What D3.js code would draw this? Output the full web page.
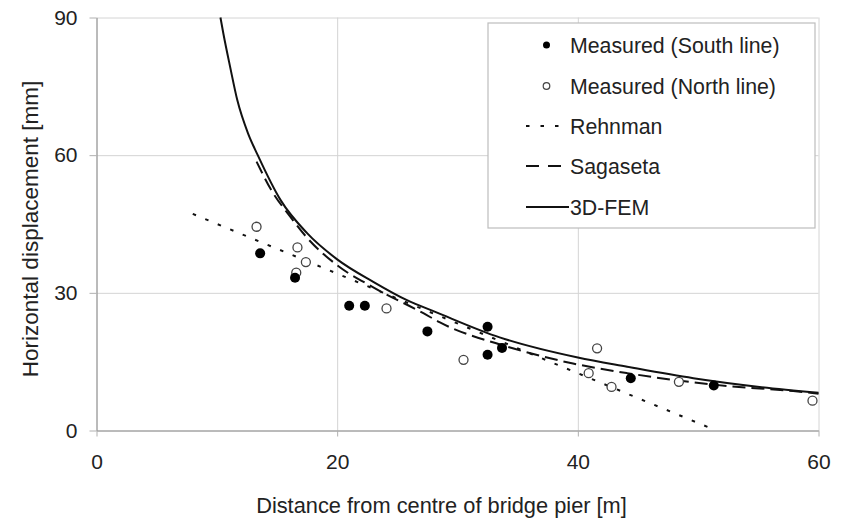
<!DOCTYPE html>
<html>
<head>
<meta charset="utf-8">
<script src="https://cdn.jsdelivr.net/npm/d3@7"></script>
<style>
  body { margin: 0; background: #fff; }
  text { font-family: "Liberation Sans", Arial, sans-serif; fill: #222; }
</style>
</head>
<body>
<div id="chart"></div>
<script>
// measured points [distance m, displacement mm]
var southX = [13.6, 16.5, 21.0, 22.3, 27.5, 32.5, 32.5, 33.7, 44.4, 51.3];
var southY = [38.6, 33.3, 27.2, 27.2, 21.6, 22.6, 16.5, 18.0, 11.4, 9.8];
var northX = [13.3, 16.7, 17.4, 16.6, 24.1, 30.5, 41.6, 40.9, 42.8, 48.4, 59.5];
var northY = [44.4, 39.9, 36.7, 34.4, 26.6, 15.4, 17.9, 12.5, 9.5, 10.6, 6.5];

// predictions
var rehnmanX = [8.0, 51.5];
var rehnmanY = [47.2, 0];
var sagasetaX = [13.3, 14.5, 16.1, 17.5, 20, 23, 27.2, 28.5, 34.1, 39.6, 44.1, 52.4, 57.9, 60];
var sagasetaY = [58.6, 52.5, 46.6, 42.0, 36.0, 31.2, 25.5, 23.6, 18.3, 14.6, 12.5, 9.7, 8.6, 8.0];
var femX = [10.3, 10.55, 11.1, 11.7, 12.6, 13.4, 15.3, 17.5, 20, 23, 25.8, 28.2, 33.5, 40, 44.1, 49.6, 55.1, 60];
var femY = [90, 86.4, 79.3, 72.0, 64.7, 60.0, 50.2, 43.0, 37.3, 32.4, 28.4, 25.8, 20.3, 15.9, 13.9, 11.4, 9.5, 8.2];

var xTicks = [0, 20, 40, 60];
var yTicks = [0, 30, 60, 90];
var legendLabels = ["Measured (South line)", "Measured (North line)", "Rehnman", "Sagaseta", "3D-FEM"];

var margin = { top: 17.5, right: 25.5, bottom: 89.5, left: 96.5 },
  width = 844 - margin.left - margin.right,
  height = 520 - margin.top - margin.bottom;

var svg = d3.select("#chart")
  .append("svg")
  .attr("width", 844)
  .attr("height", 520)
  .append("g")
  .attr("transform", "translate(" + margin.left + "," + margin.top + ")");

var x = d3.scaleLinear().domain([0, 60]).range([0, width]);
var y = d3.scaleLinear().domain([0, 90]).range([height, 0]);

// gridlines
svg.append("g")
  .call(d3.axisLeft(y).tickValues(yTicks).tickSize(-width).tickFormat(""))
  .call(function(g) { g.select(".domain").remove(); })
  .selectAll("line").attr("stroke", "#d4d4d4");
svg.append("g")
  .attr("transform", "translate(0," + height + ")")
  .call(d3.axisBottom(x).tickValues(xTicks).tickSize(-height).tickFormat(""))
  .call(function(g) { g.select(".domain").remove(); })
  .selectAll("line").attr("stroke", "#d4d4d4");

// axes
var yAxis = svg.append("g")
  .call(d3.axisLeft(y).tickValues(yTicks).tickSize(7).tickSizeOuter(0).tickPadding(12));
var xAxis = svg.append("g")
  .attr("transform", "translate(0," + height + ")")
  .call(d3.axisBottom(x).tickValues(xTicks).tickSize(6).tickSizeOuter(0).tickPadding(18));
[yAxis, xAxis].forEach(function(a) {
  a.select(".domain").attr("stroke", "#8c8c8c");
  a.selectAll(".tick line").attr("stroke", "#b0b0b0");
  a.selectAll("text").attr("font-size", 21).attr("fill", "#222")
    .attr("font-family", "Liberation Sans, Arial, sans-serif");
});

svg.append("text")
  .attr("text-anchor", "middle")
  .attr("x", 441.5 - margin.left)
  .attr("y", height + 82)
  .attr("font-size", 21.8)
  .text("Distance from centre of bridge pier [m]");

svg.append("text")
  .attr("text-anchor", "middle")
  .attr("transform", "translate(" + (-59) + "," + (229 - margin.top) + ") rotate(-90)")
  .attr("font-size", 22.5)
  .text("Horizontal displacement [mm]");

// lines
var line = d3.line()
  .x(function(d) { return x(d[0]); })
  .y(function(d) { return y(d[1]); })
  .curve(d3.curveMonotoneX);

function pairs(xs, ys) { return xs.map(function(v, i) { return [v, ys[i]]; }); }

svg.append("path")
  .attr("d", line(pairs(rehnmanX, rehnmanY)))
  .attr("fill", "none").attr("stroke", "#111").attr("stroke-width", 2)
  .attr("stroke-dasharray", "3.5,10");
svg.append("path")
  .attr("d", line(pairs(sagasetaX, sagasetaY)))
  .attr("fill", "none").attr("stroke", "#111").attr("stroke-width", 2)
  .attr("stroke-dasharray", "13,6");
svg.append("path")
  .attr("d", line(pairs(femX, femY)))
  .attr("fill", "none").attr("stroke", "#111").attr("stroke-width", 2);

// points
svg.selectAll(".north")
  .data(pairs(northX, northY))
  .enter().append("circle")
  .attr("class", "north")
  .attr("cx", function(d) { return x(d[0]); })
  .attr("cy", function(d) { return y(d[1]); })
  .attr("r", 4.5)
  .attr("fill", "#fff").attr("stroke", "#444").attr("stroke-width", 1.3);
svg.selectAll(".south")
  .data(pairs(southX, southY))
  .enter().append("circle")
  .attr("class", "south")
  .attr("cx", function(d) { return x(d[0]); })
  .attr("cy", function(d) { return y(d[1]); })
  .attr("r", 5)
  .attr("fill", "#000");

// legend
var legend = svg.append("g")
  .attr("transform", "translate(" + (488 - margin.left) + "," + (23 - margin.top) + ")");
legend.append("rect")
  .attr("x", 0).attr("y", 0)
  .attr("width", 327).attr("height", 205)
  .attr("fill", "#fff").attr("stroke", "#bdbdbd").attr("stroke-width", 1.2);

var rowY = [22, 63, 103, 143, 184];
legendLabels.forEach(function(lab, i) {
  var g = legend.append("g").attr("transform", "translate(0," + rowY[i] + ")");
  if (i === 0) {
    g.append("circle").attr("cx", 58.5).attr("cy", 0).attr("r", 3.5).attr("fill", "#000");
  } else if (i === 1) {
    g.append("circle").attr("cx", 58.5).attr("cy", 0).attr("r", 3.3)
      .attr("fill", "#fff").attr("stroke", "#444").attr("stroke-width", 1.2);
  } else {
    var dash = i === 2 ? "3.5,11" : (i === 3 ? "13,9" : null);
    var ln = g.append("line").attr("x1", 38).attr("x2", i === 4 ? 81 : 76)
      .attr("y1", 0).attr("y2", 0)
      .attr("stroke", "#111").attr("stroke-width", 2);
    if (dash) ln.attr("stroke-dasharray", dash);
  }
  g.append("text")
    .attr("x", 82)
    .attr("y", 0)
    .attr("dy", "0.36em")
    .attr("font-size", 21.3)
    .text(lab);
});
</script>
</body>
</html>
